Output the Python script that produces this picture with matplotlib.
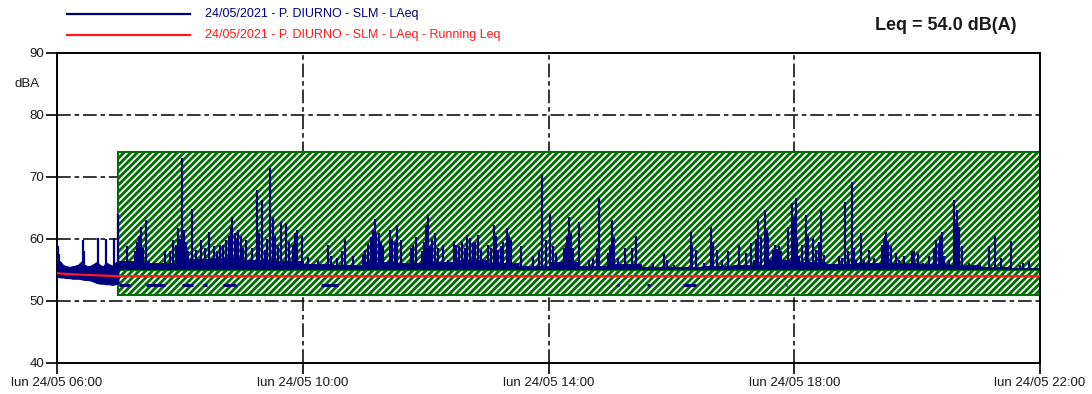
import matplotlib
matplotlib.use("Agg")
import matplotlib.pyplot as plt
from matplotlib.lines import Line2D
from matplotlib.patches import Rectangle

plt.rcParams['font.family'] = ['Liberation Sans', 'DejaVu Sans']
plt.rcParams['hatch.linewidth'] = 1.3

# ---------------------------------------------------------------- data
# LAeq envelope (min / max) before the masked period, 3-minute steps
pre_time = ["06:00", "06:03", "06:06", "06:09", "06:12", "06:15", "06:18",
            "06:21", "06:24", "06:27", "06:30", "06:33", "06:36", "06:39",
            "06:42", "06:45", "06:48", "06:51", "06:54", "06:57", "07:00"]
pre_max = [56.6, 56.4, 55.8, 55.6, 55.5, 55.6, 55.7, 55.9, 56.4, 55.8, 55.6,
           55.7, 56.0, 56.3, 55.8, 55.6, 56.2, 55.9, 55.7, 56.2, 56.5]
pre_min = [53.9, 53.8, 53.8, 53.7, 53.7, 53.6, 53.6, 53.6, 53.5, 53.4, 53.4,
           53.3, 53.1, 52.9, 52.8, 52.8, 52.7, 52.7, 52.6, 52.7, 52.9]

# background LAeq level during the masked period, 30-minute steps
bg_time = ["07:00", "07:30", "08:00", "08:30", "09:00", "09:30", "10:00",
           "10:30", "11:00", "11:30", "12:00", "12:30", "13:00", "13:30",
           "14:00", "14:30", "15:00", "15:30", "16:00", "16:30", "17:00",
           "17:30", "18:00", "18:30", "19:00", "19:30", "20:00", "20:30",
           "21:00", "21:30", "22:00"]
bg_db = [56.4, 56.1, 56.7, 56.9, 56.6, 56.4, 55.9, 55.8, 56.3, 56.1, 56.3,
         56.6, 56.1, 55.7, 56.3, 55.7, 55.9, 55.5, 55.5, 55.6, 55.8, 56.6,
         56.3, 56.0, 56.1, 56.1, 56.0, 55.8, 55.5, 55.4, 55.4]
bg_floor = 55.1

# short LAeq peaks
spike_time = [
    "06:01", "06:02", "06:25", "06:26", "06:40", "06:48", "06:56",
    "07:00", "07:08", "07:16", "07:18", "07:20", "07:22", "07:24", "07:27",
    "07:45", "07:50", "07:53", "07:56", "07:58", "08:00", "08:02", "08:04",
    "08:06", "08:08", "08:12", "08:16", "08:21", "08:25", "08:28", "08:33",
    "08:36", "08:39", "08:42", "08:45", "08:48", "08:50", "08:51", "08:54",
    "08:56", "08:57", "09:00", "09:02", "09:05", "09:10", "09:15", "09:17",
    "09:20", "09:23", "09:25", "09:28", "09:31", "09:33", "09:36", "09:39",
    "09:44", "09:47", "09:50", "09:52", "09:54", "09:59",
    "10:05", "10:15", "10:25", "10:28", "10:33", "10:38", "10:41", "10:49",
    "10:59", "11:01", "11:04", "11:07", "11:09", "11:11", "11:12", "11:14",
    "11:16", "11:18", "11:25", "11:27", "11:30", "11:32", "11:36", "11:46",
    "11:48", "11:51", "11:56", "11:58", "12:00", "12:02", "12:04", "12:06",
    "12:09", "12:12", "12:17", "12:22", "12:28", "12:30", "12:33", "12:36",
    "12:38", "12:40", "12:43", "12:46", "12:48", "12:51", "12:54", "13:01",
    "13:04", "13:07", "13:09", "13:11", "13:14", "13:16", "13:19", "13:21",
    "13:23", "13:33", "13:45", "13:51", "13:54", "13:58",
    "14:01", "14:04", "14:07", "14:15", "14:17", "14:18", "14:20", "14:22",
    "14:24", "14:30", "14:40", "14:43", "14:47", "14:49", "14:58", "15:00",
    "15:02", "15:04", "15:08", "15:15", "15:22", "15:25", "15:42", "15:53",
    "15:56", "16:03", "16:19", "16:20", "16:24", "16:32", "16:39", "16:41",
    "16:45", "16:49", "16:55", "17:06", "17:13", "17:18", "17:21", "17:23",
    "17:25", "17:28", "17:31", "17:33", "17:34", "17:39", "17:41", "17:43",
    "17:45", "17:47", "17:54", "17:58",
    "18:00", "18:02", "18:03", "18:05", "18:08", "18:11", "18:13", "18:18",
    "18:21", "18:24", "18:26", "18:29", "18:36", "18:44", "18:47", "18:50",
    "18:52", "18:53", "18:56", "18:58", "19:00", "19:05", "19:08", "19:13",
    "19:18", "19:26", "19:28", "19:29", "19:30", "19:32", "19:34", "19:39",
    "19:42", "19:47", "19:55", "19:57", "20:01", "20:06", "20:12", "20:16",
    "20:18", "20:21", "20:22", "20:24", "20:26", "20:31", "20:36", "20:38",
    "20:39", "20:40", "20:41", "20:44", "20:51", "21:01", "21:10", "21:16",
    "21:22", "21:32", "21:40", "21:43", "21:49"]
spike_db = [
    58.8, 57.5, 59.8, 58.0, 60.2, 60.0, 60.1,
    64.1, 58.8, 58.0, 59.5, 60.5, 62.0, 58.5, 63.1,
    58.0, 58.0, 59.8, 59.0, 61.7, 60.0, 73.1, 61.5,
    59.5, 58.0, 64.9, 58.2, 59.8, 58.5, 61.2, 58.8,
    58.0, 59.0, 59.0, 59.8, 60.5, 62.0, 63.6, 61.0,
    60.0, 61.5, 60.5, 58.5, 59.8, 58.5, 67.9, 61.0,
    66.3, 58.2, 60.0, 71.4, 63.6, 60.5, 59.0, 62.8,
    62.5, 59.5, 59.0, 60.9, 61.5, 60.5,
    57.1, 56.6, 59.0, 57.2, 56.9, 58.0, 60.0, 57.2,
    57.4, 58.2, 59.3, 60.4, 61.5, 63.3, 61.0, 60.9,
    59.5, 58.8, 61.5, 60.0, 59.5, 62.3, 59.8, 58.5,
    59.0, 60.4, 58.0, 59.5, 62.3, 63.9, 58.8, 60.0,
    60.9, 58.5, 59.0, 56.6, 59.6, 59.0, 58.8, 59.5,
    58.5, 60.6, 60.1, 59.3, 59.5, 60.6, 58.2, 59.0,
    58.5, 62.3, 60.5, 58.2, 58.8, 59.5, 61.7, 60.5,
    59.8, 58.8, 57.2, 58.2, 70.3, 59.8,
    64.1, 58.8, 57.7, 58.5, 59.0, 60.5, 63.6, 61.0,
    58.5, 62.8, 56.6, 57.0, 58.5, 66.6, 57.7, 59.0,
    63.1, 60.4, 56.9, 58.5, 58.5, 60.5, 56.1, 57.7,
    56.6, 55.8, 61.2, 59.0, 58.2, 56.1, 62.0, 59.5,
    58.2, 56.6, 58.0, 59.0, 57.7, 59.3, 56.6, 60.0,
    63.1, 60.4, 64.7, 61.5, 60.4, 58.2, 59.0, 58.4,
    58.8, 58.0, 62.0, 65.8,
    63.5, 66.6, 60.0, 57.2, 59.0, 63.9, 60.5, 60.1,
    58.2, 59.5, 64.7, 57.4, 55.8, 57.2, 56.9, 66.0,
    58.0, 56.6, 69.2, 58.5, 56.6, 61.0, 56.6, 58.2,
    56.9, 59.0, 60.1, 60.5, 61.2, 59.5, 58.8, 57.7,
    56.6, 57.2, 58.0, 58.0, 57.7, 56.1, 57.2, 58.5,
    59.8, 59.3, 60.5, 61.2, 57.2, 56.6, 66.3, 62.5,
    64.7, 60.0, 62.0, 58.8, 56.1, 56.1, 58.8, 60.5,
    56.9, 59.6, 55.8, 56.1, 56.4]

# short dips of LAeq below the background
dip_start = ["07:01", "07:27", "08:02", "08:23", "08:42", "10:18", "15:07",
             "15:18", "15:36", "16:11", "16:37", "17:52"]
dip_end = ["07:11", "07:45", "08:13", "08:26", "08:55", "10:34", "15:09",
           "15:19", "15:39", "16:24", "16:38", "17:53"]
dip_db = 52.6

# running Leq
run_time = ["06:00", "06:05", "06:15", "06:30", "06:45", "07:00", "22:00"]
run_db = [54.5, 54.4, 54.3, 54.2, 54.1, 54.0, 54.0]

# masked period
mask_start, mask_end = "07:00", "22:00"
mask_low, mask_high = 51.0, 74.0

leq_total = 54.0
series_labels = ["24/05/2021 - P. DIURNO - SLM - LAeq",
                 "24/05/2021 - P. DIURNO - SLM - LAeq - Running Leq"]
x_tick_hours = [6, 10, 14, 18, 22]
x_tick_labels = ["lun 24/05 06:00", "lun 24/05 10:00", "lun 24/05 14:00",
                 "lun 24/05 18:00", "lun 24/05 22:00"]
y_ticks = [40, 50, 60, 70, 80, 90]


def hours(hhmm):
    h, m = hhmm.split(":")
    return int(h) + int(m) / 60.0


def hours_list(values):
    return [hours(v) for v in values]


NAVY = "#00007f"
RED = "#ff1a1a"
GREEN = "#006e00"
TXT = "#1a1a1a"

# ---------------------------------------------------------------- figure
fig = plt.figure(figsize=(10.92, 3.94), dpi=100)
ax = fig.add_axes([0.0522, 0.0787, 0.9002, 0.7868])
ax.set_xlim(6, 22)
ax.set_ylim(40, 90)

dash = (0, (9, 2.5, 3, 2.5))
for yv in y_ticks[1:-1]:
    ax.axhline(yv, color="black", lw=1.1, linestyle=dash, zorder=1)
for xv in x_tick_hours[1:-1]:
    ax.axvline(xv, color="black", lw=1.1, linestyle=dash, zorder=1)

# masked period: hatched block
m0, m1 = hours(mask_start), hours(mask_end)
ax.fill_between([m0, m1], mask_low, mask_high, facecolor=GREEN,
                edgecolor="white", hatch="/////", linewidth=0, zorder=2)
ax.add_patch(Rectangle((m0, mask_low), m1 - m0, mask_high - mask_low,
                       fill=False, edgecolor=GREEN, lw=1.5, zorder=2.5))
ax.hlines(55.0, m0, m1, color=GREEN, lw=1.5, zorder=2.5)

# LAeq trace
ax.fill_between(hours_list(pre_time), pre_min, pre_max, color=NAVY,
                lw=0.8, zorder=3)
ax.fill_between(hours_list(bg_time), bg_floor, bg_db, step="post",
                color=NAVY, lw=0.6, zorder=3)
ax.vlines(hours_list(spike_time), bg_floor, spike_db, color=NAVY,
          lw=1.6, zorder=3)
ax.hlines([dip_db] * len(dip_start), hours_list(dip_start),
          hours_list(dip_end), color=NAVY, lw=2.2, zorder=3)

# running Leq
ax.plot(hours_list(run_time), run_db, color=RED, lw=1.6, zorder=4)

# axes styling
for sp in ax.spines.values():
    sp.set_color("black")
    sp.set_linewidth(1.4)
ax.set_xticks(x_tick_hours)
ax.set_xticklabels(x_tick_labels)
ax.set_yticks(y_ticks)
ax.tick_params(axis="both", colors="black", labelcolor=TXT, labelsize=9.5,
               length=8, width=1.2, direction="out")
ax.tick_params(axis="x", pad=2)
ax.tick_params(axis="y", pad=1)
ax.text(-0.018, 85, "dBA", transform=ax.get_yaxis_transform(),
        ha="right", va="center", fontsize=9.5, color=TXT)

# legend
fig.add_artist(Line2D([0.0614, 0.174], [0.9645, 0.9645], color=NAVY, lw=1.6))
fig.add_artist(Line2D([0.0614, 0.174], [0.911, 0.911], color=RED, lw=1.6))
fig.text(0.1877, 0.9645, series_labels[0], color=NAVY, fontsize=9,
         ha="left", va="center")
fig.text(0.1877, 0.911, series_labels[1], color=RED, fontsize=9,
         ha="left", va="center")
fig.text(0.866, 0.935, f"Leq = {leq_total:.1f} dB(A)", color=TXT,
         fontsize=13, fontweight="bold", ha="center", va="center")

fig.savefig("out.png", dpi=100)
